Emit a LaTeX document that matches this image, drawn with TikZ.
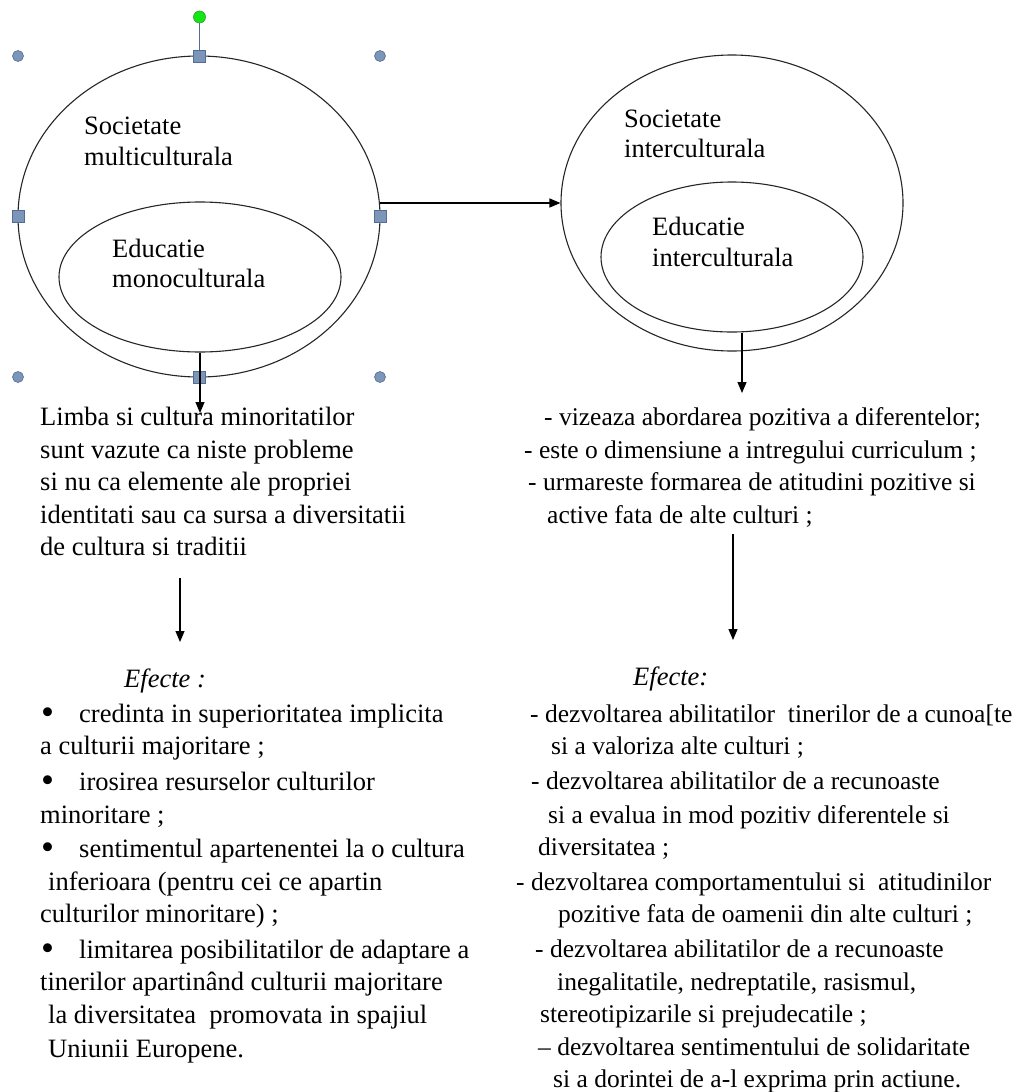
\documentclass[tikz,border=0pt]{standalone}
\usepackage{fontspec}
\setmainfont{Liberation Serif}
\usetikzlibrary{shapes.geometric,arrows.meta}
\definecolor{hfill}{RGB}{124,150,186}
\definecolor{hdraw}{RGB}{84,108,148}
\definecolor{gfill}{RGB}{20,230,20}
\definecolor{gdraw}{RGB}{40,160,40}
\newcommand{\mybul}{\makebox[38pt][l]{\raisebox{-2pt}{\scalebox{1.4}{•}}}}
\tikzset{
 oval/.style={ellipse, draw=black!85, line width=1.1pt, inner sep=0pt},
 txt/.style={anchor=base west, inner sep=0pt, font=\fontsize{26.5}{33}\selectfont},
 rtxt/.style={anchor=base west, inner sep=0pt, font=\fontsize{25.5}{33}\selectfont},
 itxt/.style={txt, font=\fontsize{26.5}{33}\selectfont\itshape},
 conn/.style={line width=1.2pt, -{Triangle[length=11pt,width=9pt]}},
 sqh/.style={rectangle, fill=hfill, draw=hdraw, line width=0.6pt, minimum size=12pt, inner sep=0pt},
 cirh/.style={circle, fill=hfill, draw=hdraw, line width=0.6pt, minimum size=11pt, inner sep=0pt},
 roth/.style={circle, fill=gfill, draw=gdraw, line width=0.6pt, minimum size=12pt, inner sep=0pt},
}
\begin{document}
\begin{tikzpicture}[x=1pt,y=-1pt]
\useasboundingbox[fill=white] (0,0) rectangle (1031,1092);
% ellipses
\node[oval, minimum width=362pt, minimum height=321pt] (LO) at (199,216.5) {};
\node[oval, minimum width=282pt, minimum height=150pt] (LI) at (200,277) {};
\node[oval, minimum width=342pt, minimum height=296pt] (RO) at (732,203) {};
\node[oval, minimum width=262pt, minimum height=150pt] (RI) at (732,257) {};
% ellipse texts
\node[txt] (l1) at (84,134) {Societate};
\node[txt] (l2) at (84,165) {multiculturala};
\node[txt] (l3) at (112,257) {Educatie};
\node[txt] (l4) at (112,287) {monoculturala};
\node[txt] (r1) at (624,127) {Societate};
\node[txt] (r2) at (624,157) {interculturala};
\node[txt] (r3) at (652,235) {Educatie};
\node[txt] (r4) at (652,266) {interculturala};
% selection handles
\node[roth] (hR) at (199.5,17) {};
\node[sqh] (hT) at (199.5,56) {};
\draw[hdraw, line width=1pt] (hR) -- (hT);
\node[sqh] (hL) at (18,216.5) {};
\node[sqh] (hRt) at (380,216.5) {};
\node[sqh] (hB) at (199.5,377) {};
\node[cirh] (c1) at (18,56) {};
\node[cirh] (c2) at (380,56) {};
\node[cirh] (c3) at (18,377) {};
\node[cirh] (c4) at (380,377) {};
% top connectors
\coordinate (hs) at (380,203);
\draw[conn] (hs) -- (RO.west);
\coordinate (ltip) at (200,413);
\draw[conn] (LI.south) -- (ltip);
\coordinate (rtip) at (742,393);
\draw[conn] (RI.south -| rtip) -- (rtip);
% left text block
\node[txt] (lt1) at (40,425) {Limba si cultura minoritatilor};
\node[txt] (lt2) at (40,458) {sunt vazute ca niste probleme};
\node[txt] (lt3) at (40,490) {si nu ca elemente ale propriei};
\node[txt] (lt4) at (40,523) {identitati sau ca sursa a diversitatii};
\node[txt] (lt5) at (40,555) {de cultura si traditii};
% right text block
\node[rtxt] (rt1) at (544,425) {- vizeaza abordarea pozitiva a diferentelor;};
\node[rtxt] (rt2) at (524,458) {- este o dimensiune a intregului curriculum ;};
\node[rtxt] (rt3) at (528,490) {- urmareste formarea de atitudini pozitive si};
\node[rtxt] (rt4) at (547,523) {active fata de alte culturi ;};
% middle connectors
\coordinate (la1) at (180,578);
\coordinate (la2) at (180,642);
\draw[conn] (la1) -- (la2);
\coordinate (ra1) at (733,534);
\coordinate (ra2) at (733,640);
\draw[conn] (ra1) -- (ra2);
% left effects
\node[itxt] (le0) at (124,687) {Efecte :};
\node[txt] (le1) at (41,722) {\mybul credinta in superioritatea implicita};
\node[txt] (le2) at (40,754) {a culturii majoritare ;};
\node[txt] (le3) at (41,790) {\mybul irosirea resurselor culturilor};
\node[txt] (le4) at (40,823) {minoritare ;};
\node[txt] (le5) at (41,857) {\mybul sentimentul apartenentei la o cultura};
\node[txt] (le6) at (48,890) {inferioara (pentru cei ce apartin};
\node[txt] (le7) at (40,922) {culturilor minoritare) ;};
\node[txt] (le8) at (41,958) {\mybul limitarea posibilitatilor de adaptare a};
\node[txt] (le9) at (40,990) {tinerilor apartinând culturii majoritare};
\node[txt] (le10) at (48,1023) {la diversitatea\ \ promovata in spajiul};
\node[txt] (le11) at (48,1057) {Uniunii Europene.};
% right effects
\node[itxt] (re0) at (633,685) {Efecte:};
\node[rtxt] (re1) at (530,722) {- dezvoltarea abilitatilor\ \ tinerilor de a cunoa[te};
\node[rtxt] (re2) at (551,754) {si a valoriza alte culturi ;};
\node[rtxt] (re3) at (531,789) {- dezvoltarea abilitatilor de a recunoaste};
\node[rtxt] (re4) at (548,823) {si a evalua in mod pozitiv diferentele si};
\node[rtxt] (re5) at (538,855) {diversitatea ;};
\node[rtxt] (re6) at (516,890) {- dezvoltarea comportamentului si\ \ atitudinilor};
\node[rtxt] (re7) at (558,922) {pozitive fata de oamenii din alte culturi ;};
\node[rtxt] (re8) at (535,957) {- dezvoltarea abilitatilor de a recunoaste};
\node[rtxt] (re9) at (557,990) {inegalitatile, nedreptatile, rasismul,};
\node[rtxt] (re10) at (540,1022) {stereotipizarile si prejudecatile ;};
\node[rtxt] (re11) at (538,1055) {– dezvoltarea sentimentului de solidaritate};
\node[rtxt] (re12) at (553,1087) {si a dorintei de a-l exprima prin actiune.};
\end{tikzpicture}
\end{document}
